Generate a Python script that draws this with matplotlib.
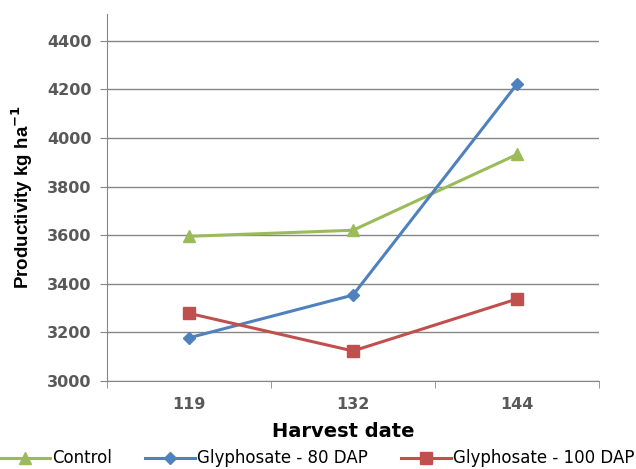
import matplotlib.pyplot as plt
from matplotlib.ticker import FixedLocator

dates = ["119", "132", "144"]
control = [3595, 3620, 3932]
gly80 = [3177, 3353, 4222]
gly100 = [3278, 3123, 3337]
yticks = [3000, 3200, 3400, 3600, 3800, 4000, 4200, 4400]

plt.rcParams["font.family"] = ["DejaVu Sans"]

fig = plt.figure(figsize=(6.36, 4.69), dpi=100)
ax = fig.add_axes([0.168, 0.188, 0.774, 0.782])

x = range(len(dates))
ax.plot(x, control, color="#9BBB59", lw=2.2, marker="^", ms=8, label="Control")
ax.plot(x, gly80, color="#4F81BD", lw=2.2, marker="D", ms=6, label="Glyphosate - 80 DAP")
ax.plot(x, gly100, color="#C0504D", lw=2.2, marker="s", ms=8, label="Glyphosate - 100 DAP")

ax.set_xlim(-0.5, 2.5)
ax.set_ylim(3000, 4510)
ax.set_yticks(yticks)
ax.set_xticks(list(x))
ax.set_xticklabels(dates)
ax.xaxis.set_minor_locator(FixedLocator([-0.5, 0.5, 1.5, 2.5]))
ax.tick_params(axis="x", which="major", length=0, pad=12)
ax.tick_params(axis="x", which="minor", length=5, color="#868686")
ax.tick_params(axis="y", length=5, color="#868686", pad=6)
for lab in ax.get_xticklabels() + ax.get_yticklabels():
    lab.set_color("#595959")
    lab.set_fontweight("bold")
    lab.set_fontsize(11.5)

ax.grid(axis="y", color="#868686", lw=1)
ax.set_axisbelow(True)
for s in ["top", "right"]:
    ax.spines[s].set_visible(False)
for s in ["left", "bottom"]:
    ax.spines[s].set_color("#868686")

ax.set_ylabel("Productivity kg ha$^{\\mathbf{-1}}$", fontsize=13.5, fontweight="bold",
              labelpad=9, family=["Liberation Sans", "DejaVu Sans"])
ax.set_xlabel("Harvest date", fontsize=14, fontweight="bold", labelpad=7)
ax.xaxis.label.set_x(0.48)

fig.legend(loc="lower left", bbox_to_anchor=(-0.002, 0.0), ncol=3, frameon=False,
           handlelength=3.0, columnspacing=2.0, handletextpad=0.1,
           borderpad=0.1, borderaxespad=0,
           prop={"family": "DejaVu Sans", "size": 12})

fig.savefig("out.png", dpi=100)
